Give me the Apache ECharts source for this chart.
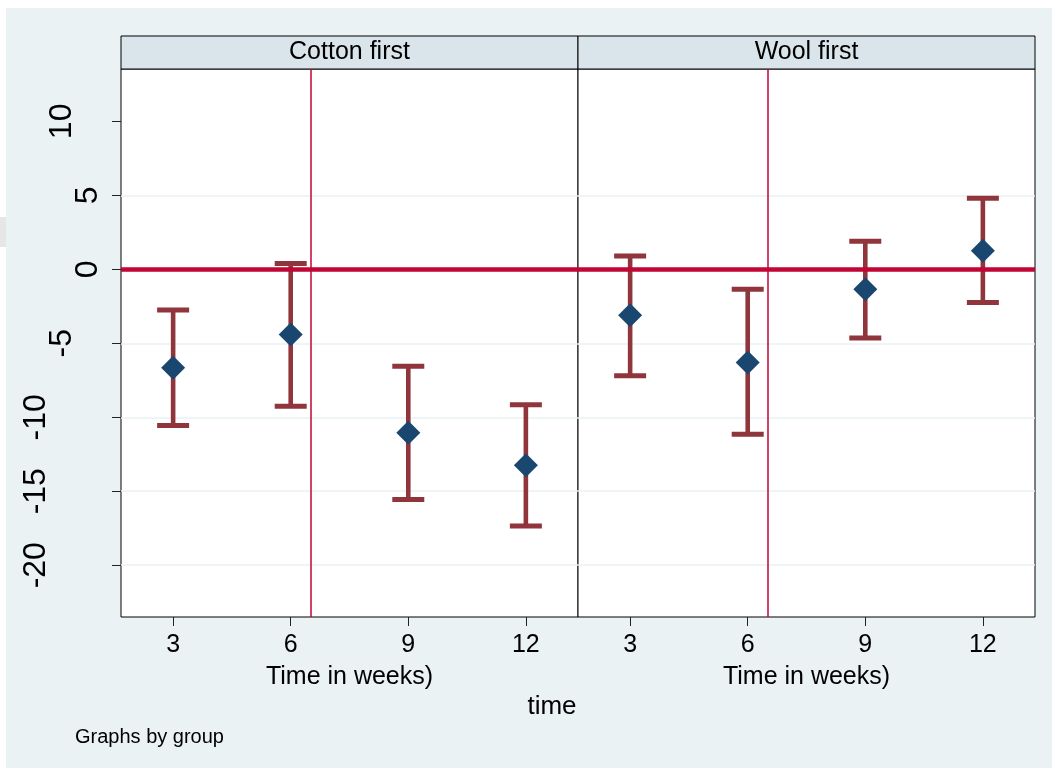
<!DOCTYPE html>
<html><head><meta charset="utf-8">
<script src="https://cdn.jsdelivr.net/npm/echarts@6/dist/echarts.min.js"></script>
<style>
html,body{margin:0;padding:0;background:#fff;}
#c{position:absolute;left:6px;top:8px;width:1046px;height:760px;}
#mark{position:absolute;left:0;top:217px;width:6px;height:30px;background:#e6e6e6;}
</style>
</head><body><div id="mark"></div><div id="c"></div>
<script>
// ---- data ----
const groups = ['Cotton first', 'Wool first'];
const times = [3, 6, 9, 12];
const estCotton = [-6.65, -4.4, -11.05, -13.25];
const lowCotton = [-10.55, -9.25, -15.55, -17.35];
const highCotton = [-2.75, 0.4, -6.55, -9.15];
const estWool = [-3.1, -6.3, -1.35, 1.25];
const lowWool = [-7.2, -11.15, -4.65, -2.25];
const highWool = [0.9, -1.35, 1.9, 4.8];
const yTicks = [10, 5, 0, -5, -10, -15, -20];
const gridValues = [5, 0, -5, -10, -15, -20];
const xTicks = [3, 6, 9, 12];
const refX = 6.5;
const refY = 0;
const xAxisTitle = 'Time in weeks)';
const outerTitle = 'time';
const note = 'Graphs by group';

// ---- layout/style ----
const FONT = 'Liberation Sans, Arial, Helvetica, sans-serif';
const MAROON = '#90353B', NAVY = '#1A476F', CRAN = '#C10534';
const GRID_TOP = 61, GRID_H = 548, GRID_W = 457;
const GRID_LEFT = [115, 572];
const XMIN = 1.67, XMAX = 13.33, YMIN = -23.5, YMAX = 13.54;

const est = [estCotton, estWool], low = [lowCotton, lowWool], high = [highCotton, highWool];

const grid = GRID_LEFT.map(l => ({
  left: l, top: GRID_TOP, width: GRID_W, height: GRID_H,
  show: true, backgroundColor: '#fff', borderColor: '#000', borderWidth: 1
}));

const xAxis = GRID_LEFT.map((l, gi) => ({
  gridIndex: gi, type: 'value', min: XMIN, max: XMAX, position: 'bottom',
  axisLine: { show: false, onZero: false },
  splitLine: { show: false },
  axisTick: { show: true, customValues: xTicks, length: 9, lineStyle: { color: '#222', width: 1 } },
  axisLabel: { customValues: xTicks, margin: 16, fontSize: 25, color: '#000', fontFamily: FONT },
  name: xAxisTitle, nameLocation: 'middle', nameGap: 47.5,
  nameTextStyle: { fontSize: 25, color: '#000', fontFamily: FONT }
}));

function yBase(gi) {
  return { gridIndex: gi, type: 'value', min: YMIN, max: YMAX, position: 'left',
    axisLine: { show: false, onZero: false }, splitLine: { show: false } };
}
const yAxis = [];
// main left axis with ticks; labels split by length (reference staggers them)
[1, 2, 3].forEach((len, k) => {
  const vals = yTicks.filter(v => String(v).length === len);
  yAxis.push(Object.assign(yBase(0), {
    axisTick: k === 0 ? { show: true, customValues: yTicks, length: 9, lineStyle: { color: '#222', width: 1 } } : { show: false },
    axisLabel: { customValues: vals, rotate: 90, margin: 16.5 + 26 * k, fontSize: 32, color: '#000', fontFamily: FONT }
  }));
});
yAxis.push(Object.assign(yBase(1), { axisTick: { show: false }, axisLabel: { show: false } }));
const yIdx = [0, 3];

const series = [];
[0, 1].forEach(gi => {
  series.push({
    type: 'custom', xAxisIndex: gi, yAxisIndex: yIdx[gi], z: 2,
    data: times.map((t, i) => [t, low[gi][i], high[gi][i]]),
    encode: { x: 0, y: [1, 2] },
    renderItem(params, api) {
      const x = api.value(0);
      const pLo = api.coord([x, api.value(1)]);
      const pHi = api.coord([x, api.value(2)]);
      const hw = 16;
      return { type: 'group', children: [
        { type: 'line', shape: { x1: pLo[0], y1: pLo[1], x2: pHi[0], y2: pHi[1] }, style: { stroke: MAROON, lineWidth: 4.6 } },
        { type: 'line', shape: { x1: pLo[0] - hw, y1: pLo[1], x2: pLo[0] + hw, y2: pLo[1] }, style: { stroke: MAROON, lineWidth: 5 } },
        { type: 'line', shape: { x1: pHi[0] - hw, y1: pHi[1], x2: pHi[0] + hw, y2: pHi[1] }, style: { stroke: MAROON, lineWidth: 5 } }
      ]};
    },
    markLine: {
      z: 1, silent: true, symbol: 'none', label: { show: false },
      lineStyle: { color: '#EAF2F3', width: 1.5, type: 'solid' },
      data: gridValues.map(v => ({ yAxis: v }))
    }
  });
  series.push({
    type: 'scatter', xAxisIndex: gi, yAxisIndex: yIdx[gi], z: 4,
    symbol: 'diamond', symbolSize: 24,
    itemStyle: { color: NAVY, opacity: 1 },
    data: times.map((t, i) => [t, est[gi][i]]),
    markLine: {
      z: 3, silent: true, symbol: 'none', label: { show: false },
      data: [
        { yAxis: refY, lineStyle: { color: CRAN, width: 4.5, type: 'solid' } },
        { xAxis: refX, lineStyle: { color: CRAN, width: 1.5, type: 'solid' } }
      ]
    }
  });
});

const graphic = [];
GRID_LEFT.forEach((l, gi) => {
  graphic.push({ type: 'rect', shape: { x: l, y: 28, width: GRID_W, height: 33 },
    style: { fill: '#D9E5EB', stroke: '#000', lineWidth: 1 } });
  graphic.push({ type: 'text', x: l + GRID_W / 2, y: 44.5,
    style: { text: groups[gi], fontSize: 25, fontFamily: FONT, fill: '#000', align: 'center', verticalAlign: 'middle' } });
});
graphic.push({ type: 'text', x: 546, y: 699,
  style: { text: outerTitle, fontSize: 26, fontFamily: FONT, fill: '#000', align: 'center', verticalAlign: 'middle' } });
graphic.push({ type: 'text', x: 69, y: 729,
  style: { text: note, fontSize: 20, fontFamily: FONT, fill: '#000', align: 'left', verticalAlign: 'middle' } });

const chart = echarts.init(document.getElementById('c'), null, { renderer: 'canvas' });
chart.setOption({
  backgroundColor: '#EAF2F3',
  animation: false,
  grid, xAxis, yAxis, series, graphic
});
</script>
</body></html>
